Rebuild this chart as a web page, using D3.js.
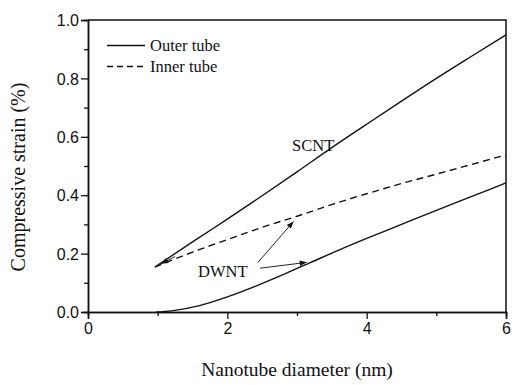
<!DOCTYPE html>
<html>
<head>
<meta charset="utf-8">
<script src="https://cdn.jsdelivr.net/npm/d3@7"></script>
<style>
  body { margin: 0; background: #fff; }
  text { fill: #111; }
</style>
</head>
<body>
<div id="chart"></div>
<script>
// diameter (nm)
const scntX = [0.96, 1.5, 2, 2.5, 3, 3.5, 4, 4.5, 5, 5.5, 6];
const scntY = [0.154, 0.24, 0.318, 0.398, 0.48, 0.563, 0.643, 0.722, 0.8, 0.875, 0.949];

const innerX = [0.96, 1.5, 2, 2.5, 3, 3.5, 4, 4.5, 5, 5.5, 6];
const innerY = [0.154, 0.205, 0.248, 0.29, 0.328, 0.368, 0.405, 0.44, 0.472, 0.505, 0.538];

const outerX = [0.98, 1.2, 1.6, 2, 2.4, 2.8, 3.2, 3.6, 4, 4.5, 5, 5.5, 6];
const outerY = [0, 0.004, 0.022, 0.052, 0.088, 0.128, 0.17, 0.212, 0.252, 0.3, 0.348, 0.395, 0.442];

const xTicks = [0, 2, 4, 6];
const xMinor = [1, 3, 5];
const yTicks = [0, 0.2, 0.4, 0.6, 0.8, 1.0];
const yMinor = [0.1, 0.3, 0.5, 0.7, 0.9];

const legendItems = [
  { label: "Outer tube", dash: null },
  { label: "Inner tube", dash: "6,4" }
];

const margin = { top: 20, right: 6, bottom: 73, left: 88 },
  width = 512 - margin.left - margin.right,
  height = 385 - margin.top - margin.bottom;

const svg = d3.select("#chart")
  .append("svg")
  .attr("width", 512)
  .attr("height", 385);

const g = svg.append("g")
  .attr("transform", `translate(${margin.left},${margin.top})`);

const x = d3.scaleLinear().domain([0, 6]).range([0, width]);
const y = d3.scaleLinear().domain([0, 1]).range([height, 0]);

const serif = "'Liberation Serif', 'Times New Roman', serif";
const sans = "'Liberation Sans', Arial, sans-serif";

// frame (top + right)
g.append("path")
  .attr("d", `M0,0H${width}V${height}`)
  .attr("fill", "none")
  .attr("stroke", "#111")
  .attr("stroke-width", 1.5);

// axes
const xAxis = g.append("g")
  .attr("transform", `translate(0,${height})`)
  .call(d3.axisBottom(x).tickValues(xTicks).tickFormat(d3.format("d")).tickSize(7).tickPadding(4));
const xAxisMinor = g.append("g")
  .attr("transform", `translate(0,${height})`)
  .call(d3.axisBottom(x).tickValues(xMinor).tickFormat("").tickSize(4));
const yAxis = g.append("g")
  .call(d3.axisLeft(y).tickValues(yTicks).tickFormat(d3.format(".1f")).tickSize(7).tickPadding(2));
const yAxisMinor = g.append("g")
  .call(d3.axisLeft(y).tickValues(yMinor).tickFormat("").tickSize(4));

[xAxis, xAxisMinor, yAxis, yAxisMinor].forEach(a => {
  a.select(".domain").attr("stroke", "#111").attr("stroke-width", 1.5);
  a.selectAll(".tick line").attr("stroke", "#111").attr("stroke-width", 1.3);
  a.selectAll("text").style("font-family", sans).style("font-size", "16px").attr("fill", "#111");
});
yAxis.selectAll("text").attr("dy", "0.36em");

// lines
const line = d3.line()
  .x(d => x(d[0]))
  .y(d => y(d[1]))
  .curve(d3.curveMonotoneX);

const series = [
  { pts: d3.zip(scntX, scntY), dash: null },
  { pts: d3.zip(innerX, innerY), dash: "7,4.5" },
  { pts: d3.zip(outerX, outerY), dash: null }
];

g.selectAll("path.series")
  .data(series)
  .join("path")
  .attr("class", "series")
  .attr("d", d => line(d.pts))
  .attr("fill", "none")
  .attr("stroke", "#111")
  .attr("stroke-width", 1.4)
  .attr("stroke-dasharray", d => d.dash);

// arrow marker
svg.append("defs").append("marker")
  .attr("id", "arrow")
  .attr("viewBox", "0 0 10 10")
  .attr("refX", 10)
  .attr("refY", 5)
  .attr("markerWidth", 9)
  .attr("markerHeight", 7)
  .attr("markerUnits", "userSpaceOnUse")
  .attr("orient", "auto")
  .append("path")
  .attr("d", "M0,1L10,5L0,9Z")
  .attr("fill", "#111");

// labels
g.append("text")
  .attr("x", x(2.93))
  .attr("y", y(0.55))
  .style("font-family", serif)
  .style("font-size", "16.5px")
  .text("SCNT");

g.append("text")
  .attr("x", x(1.58))
  .attr("y", y(0.12))
  .style("font-family", serif)
  .style("font-size", "16.5px")
  .text("DWNT");

const arrows = [
  [[2.44, 0.17], [2.95, 0.31]],
  [[2.47, 0.15], [3.14, 0.17]],
  [[1.25, 0.19], [1.05, 0.165]]
];
g.selectAll("line.arrow")
  .data(arrows)
  .join("line")
  .attr("class", "arrow")
  .attr("x1", d => x(d[0][0]))
  .attr("y1", d => y(d[0][1]))
  .attr("x2", d => x(d[1][0]))
  .attr("y2", d => y(d[1][1]))
  .attr("stroke", "#111")
  .attr("stroke-width", 0.9)
  .attr("marker-end", "url(#arrow)");

// legend
const legend = g.append("g").attr("transform", "translate(19,25.5)");
const li = legend.selectAll("g")
  .data(legendItems)
  .join("g")
  .attr("transform", (d, i) => `translate(0,${i * 21})`);
li.append("line")
  .attr("x1", 0).attr("x2", 38)
  .attr("stroke", "#111")
  .attr("stroke-width", 1.3)
  .attr("stroke-dasharray", d => d.dash);
li.append("text")
  .attr("x", 43)
  .attr("dy", "0.33em")
  .style("font-family", serif)
  .style("font-size", "16.5px")
  .text(d => d.label);

// axis titles
svg.append("text")
  .attr("x", margin.left + width / 2)
  .attr("y", 376)
  .attr("text-anchor", "middle")
  .style("font-family", serif)
  .style("font-size", "19.5px")
  .text("Nanotube diameter (nm)");

svg.append("text")
  .attr("transform", "translate(25,177) rotate(-90)")
  .attr("text-anchor", "middle")
  .style("font-family", serif)
  .style("font-size", "20px")
  .text("Compressive strain (%)");
</script>
</body>
</html>
